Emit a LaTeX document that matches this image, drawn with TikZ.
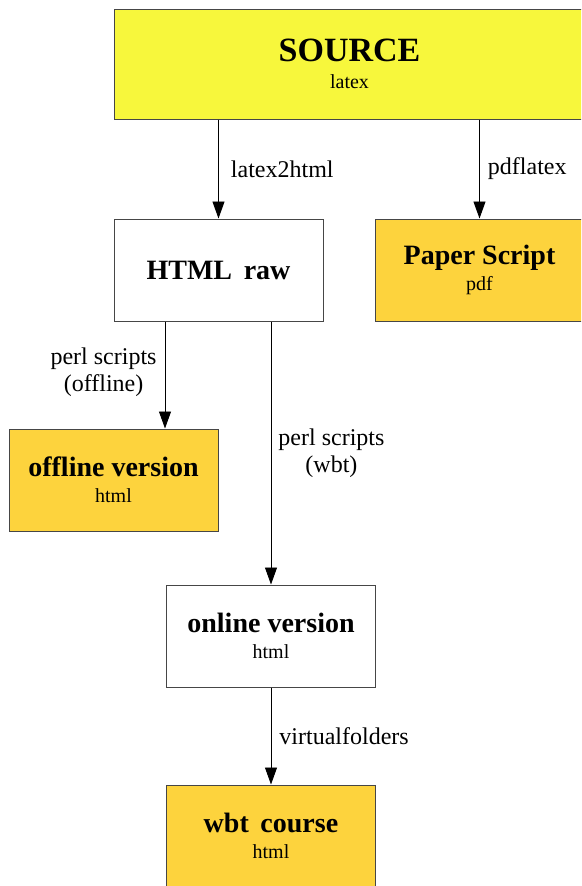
\documentclass[tikz,border=0pt]{standalone}
\usepackage{fontspec}
\setmainfont{Liberation Serif}
\usetikzlibrary{arrows.meta}
\definecolor{srcyellow}{RGB}{247,247,60}
\definecolor{outorange}{RGB}{253,211,61}
\definecolor{edgegray}{RGB}{70,70,70}
\tikzset{
  box/.style={draw=edgegray, line width=1pt, rectangle, minimum width=209pt, minimum height=102pt, inner sep=0pt, align=center, text=black, font=\fontsize{20}{26}\selectfont},
  srcbox/.style={box, fill=srcyellow, minimum width=471pt, minimum height=110pt},
  outbox/.style={box, fill=outorange},
  plainbox/.style={box, fill=white},
  conn/.style={draw=black, line width=0.9pt, -{Triangle[length=17pt,width=12pt]}},
  elabel/.style={font=\fontsize{24}{27}\selectfont, inner sep=0pt, align=center, text=black},
}
\newcommand{\ttl}[1]{{\fontsize{28}{30}\selectfont\bfseries #1}}
\newcommand{\sub}[1]{{\fontsize{20}{26}\selectfont #1}}
\begin{document}
\begin{tikzpicture}[x=1pt,y=1pt]
\useasboundingbox (0,0) rectangle (581,-886);
\clip (0,0) rectangle (581,-886);
\fill[white] (0,0) rectangle (581,-886);

\node[srcbox] (src) at (349.5,-64) {{\fontsize{34}{36}\selectfont\bfseries SOURCE}\\[1pt]\sub{latex}};
\node[plainbox] (html) at (218.5,-270) {\ttl{HTML\, raw}};
\node[outbox] (paper) at (479.5,-270) {\ttl{Paper Script}\\\sub{pdf}};
\node[outbox] (offline) at (113.5,-480) {\ttl{offline version}\\\sub{html}};
\node[plainbox] (online) at (271,-636) {\ttl{online version}\\\sub{html}};
\node[outbox] (wbt) at (271,-836) {\ttl{wbt\, course}\\\sub{html}};

\coordinate (offx) at (165,0);

\draw[conn] (src.south -| html.north) -- node[elabel, right=12pt] (l1) {latex2html} (html.north);
\draw[conn] (src.south -| paper.north) -- node[elabel, right=8pt] (l2) {pdflatex} (paper.north);
\draw[conn] (html.south -| offx) -- node[elabel, left=8pt, yshift=3pt] (l3) {perl scripts\\(offline)} (offline.north -| offx);
\draw[conn] (html.south -| online.north) -- node[elabel, right=7pt] (l4) {perl scripts\\(wbt)} (online.north);
\draw[conn] (online.south) -- node[elabel, right=8pt] (l5) {virtualfolders} (wbt.north);
\end{tikzpicture}
\end{document}
